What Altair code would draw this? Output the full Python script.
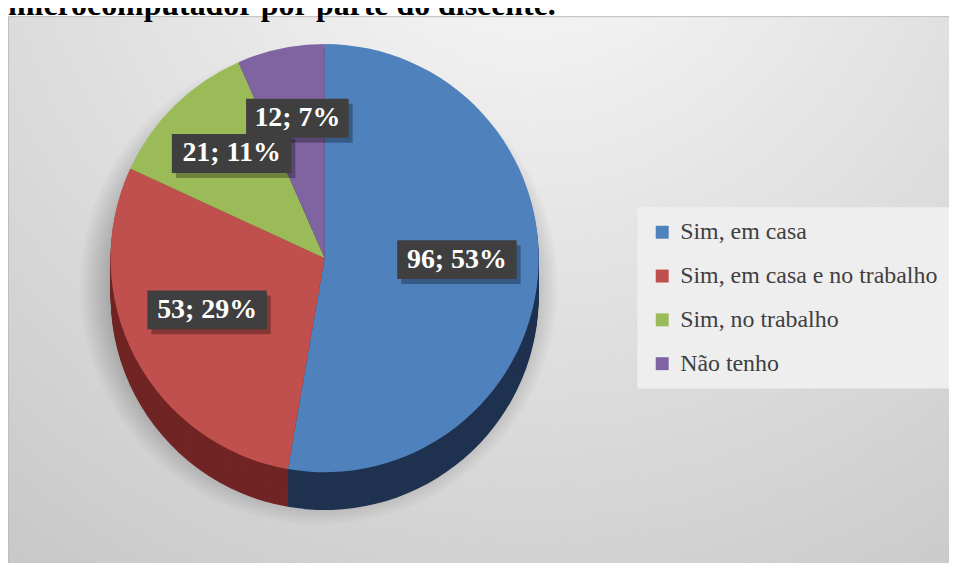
import altair as alt
import pandas as pd

# ---- data ----
categories = ["Sim, em casa", "Sim, em casa e no trabalho", "Sim, no trabalho", "Não tenho"]
values = [96, 53, 21, 12]
percents = [53, 29, 11, 7]
top_colors = ["#4F81BD", "#C0504D", "#9BBB59", "#8064A2"]
side_colors = ["#1F3250", "#702524", "#5D7035", "#4B3B60"]
title_text = "microcomputador por parte do discente."

df = pd.DataFrame({
    "cat": categories,
    "v": values,
    "ord": list(range(len(categories))),
    "label": [f"{v}; {p}%" for v, p in zip(values, percents)],
})

# ---- layout (pixels, plot origin = page (8,8)) ----
W, H = 945, 555
CX, CY = 318, 250
R = 215
DEPTH = 38
LR = 0.62 * R
LAB_DY = -10
FONT = "Liberation Serif"

one = pd.DataFrame({"a": [0]})

# background with radial gradient
bg = alt.Chart(one).mark_rect(
    fill={
        "gradient": "radial",
        "x1": 0.55, "y1": 0.05, "r1": 0.0,
        "x2": 0.55, "y2": 0.05, "r2": 0.95,
        "stops": [
            {"offset": 0.0, "color": "#fbfbfb"},
            {"offset": 0.35, "color": "#e8e8e8"},
            {"offset": 0.7, "color": "#d6d6d6"},
            {"offset": 1.0, "color": "#c6c6c6"},
        ],
    },
    stroke="#bdbdbd", strokeWidth=1,
).encode(x=alt.value(0.5), x2=alt.value(W + 5), y=alt.value(7.5), y2=alt.value(H + 5))

# title fragment (cut at top, as in the source)
title = alt.Chart(one).mark_text(
    font=FONT, fontSize=32, fontWeight="bold", align="left", baseline="alphabetic", color="#000000"
).encode(x=alt.value(0), y=alt.value(6), text=alt.value(title_text))

# shadow under pie
shadow = alt.Chart(one).mark_arc(
    fill={
        "gradient": "radial",
        "x1": 0.5, "y1": 0.5, "r1": 0.0,
        "x2": 0.5, "y2": 0.5, "r2": 0.5,
        "stops": [
            {"offset": 0.0, "color": "rgba(0,0,0,0.28)"},
            {"offset": 0.85, "color": "rgba(0,0,0,0.26)"},
            {"offset": 1.0, "color": "rgba(0,0,0,0)"},
        ],
    },
    theta=0, theta2=6.2832, outerRadius=R + 26,
).encode(x=alt.value(CX - 6), y=alt.value(CY + DEPTH - 10))

color_top = alt.Color(
    "cat:N",
    scale=alt.Scale(domain=categories, range=top_colors),
    legend=alt.Legend(
        title=None, orient="none", legendX=632, legendY=199,
        fillColor="#eeeeee", padding=13, symbolType="square", symbolSize=169,
        symbolStrokeWidth=0, labelFont=FONT, labelFontSize=24, labelColor="#404040",
        rowPadding=20, labelOffset=6, labelLimit=400,
    ),
)
color_side = alt.Color("cat:N", scale=alt.Scale(domain=categories, range=side_colors), legend=None)

base = alt.Chart(df)

side_layers = []
for d in range(DEPTH, 0, -2):
    side_layers.append(
        base.mark_arc(outerRadius=R, strokeWidth=0).encode(
            theta=alt.Theta("v:Q", stack=True),
            order=alt.Order("ord:Q"),
            color=color_side,
            x=alt.value(CX), y=alt.value(CY + d),
        )
    )

top = base.mark_arc(outerRadius=R, strokeWidth=0).encode(
    theta=alt.Theta("v:Q", stack=True),
    order=alt.Order("ord:Q"),
    color=color_top,
    x=alt.value(CX), y=alt.value(CY),
)

lab = base.transform_joinaggregate(total="sum(v)").transform_window(
    cum="sum(v)", sort=[alt.SortField("ord")], frame=[None, 0]
).transform_calculate(
    ang="(datum.cum - datum.v/2) / datum.total * 2 * PI",
    lx=f"{CX} + {LR} * sin(datum.ang)",
    ly=f"{CY + LAB_DY} - {LR} * cos(datum.ang)",
    bw="17 * length(datum.label) + 1",
    x1="datum.lx - datum.bw/2",
    x2="datum.lx + datum.bw/2",
    y1="datum.ly - 19.5",
    y2="datum.ly + 19.5",
    sx1="datum.x1 + 4", sx2="datum.x2 + 4",
    sy1="datum.y1 + 5", sy2="datum.y2 + 5",
)

box_shadow = lab.mark_rect(color="#000000", opacity=0.3).encode(
    x=alt.X("sx1:Q", scale=None, axis=None), x2="sx2:Q",
    y=alt.Y("sy1:Q", scale=None, axis=None), y2="sy2:Q",
)
box = lab.mark_rect(color="#3f3f3f").encode(
    x=alt.X("x1:Q", scale=None, axis=None), x2="x2:Q",
    y=alt.Y("y1:Q", scale=None, axis=None), y2="y2:Q",
)
txt = lab.mark_text(
    font=FONT, fontSize=28, fontWeight="bold", color="#ffffff", align="center", baseline="middle"
).encode(
    x=alt.X("lx:Q", scale=None, axis=None),
    y=alt.Y("ly:Q", scale=None, axis=None),
    text="label:N",
)

chart = alt.layer(
    bg, title, shadow, *side_layers, top, box_shadow, box, txt
).resolve_scale(color="independent").properties(
    width=W, height=H,
    autosize=alt.AutoSizeParams(type="none"),
    padding=0,
).configure_view(stroke=None)

chart.save("out.html", embed_options={"renderer": "svg", "actions": False})
